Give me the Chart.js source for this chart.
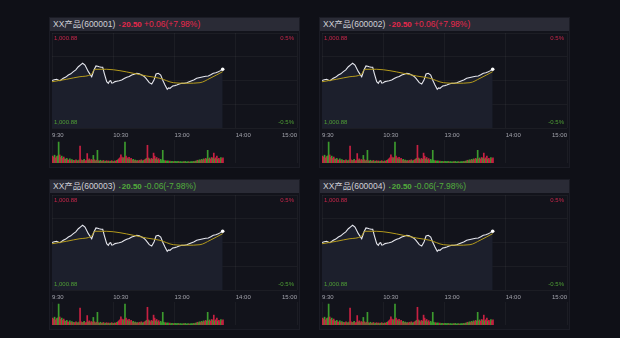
<!DOCTYPE html>
<html>
<head>
<meta charset="utf-8">
<script src="https://cdn.jsdelivr.net/npm/chart.js@4.4.0/dist/chart.umd.min.js"></script>
<style>
  html, body { margin: 0; padding: 0; width: 620px; height: 338px; overflow: hidden; background: #0f1017; }
  .panel { position: absolute; width: 251px; height: 151px; box-sizing: border-box; background: #12131b; border: 1px solid #1b1c25; }
  .head { position: absolute; left: 0; top: 0; width: 100%; height: 13px; background: #2a2b36; white-space: nowrap;
          font: 8.5px "Liberation Sans", "Noto Sans CJK SC", sans-serif; line-height: 13px; color: #cfd0d6; }
  .head .name { position: absolute; left: 3px; }
  .head .price { position: absolute; left: 69px; font-weight: bold; font-size: 8px; }
  .head .mark { font-size: 5px; margin-right: 1px; }
  .head .chg { position: absolute; left: 94px; }
  .panel canvas { position: absolute; left: 0; }
</style>
</head>
<body>
<script>
// quote header for each of the four products
const productCodes = ['600001', '600002', '600003', '600004'];
const lastPrices = ['20.50', '20.50', '20.50', '20.50'];
const changeTexts = ['+0.06(+7.98%)', '+0.06(+7.98%)', '-0.06(-7.98%)', '-0.06(-7.98%)'];
const isUp = [true, true, false, false];

// axis labels
const timeTicks = [0, 60, 120, 180, 240];           // trading minutes since 9:30
const timeLabels = ['9:30', '10:30', '13:00', '14:00', '15:00'];
const priceAxisLabels = ['1,000.88', '1,000.88'];    // top, bottom
const pctAxisLabels = ['0.5%', '-0.5%'];            // top, bottom

// intraday price (% change) sampled at trading minutes
const priceTimes = [0, 2.2, 4.6, 6.1, 7.8, 11, 13.5, 16, 18.4, 20.9, 23.3, 25.8, 28, 30, 32.3, 35.6, 38.9,
  41.1, 43.1, 44.8, 46.3, 48, 49.7, 51.2, 53.6, 55.2, 56.3, 57.5, 58.6, 60, 61.7, 63.4, 65.8, 68.3, 70.7,
  73.2, 75.6, 78.1, 80.5, 83, 85.4, 87.9, 90, 92.1, 95.3, 97.7, 99.9, 101.9, 104.1, 106.5, 108.4, 110.7,
  112.9, 114.2, 115.6, 116.9, 118.2, 120.2, 122.2, 124.6, 127.1, 129.5, 132, 134.4, 136.9, 139.3, 141.7,
  145, 148.2, 150.6, 153.1, 155.5, 158, 160.4, 162.9, 165, 167.2];
const priceValues = [0.0, 0.008, 0.013, 0.004, -0.002, 0.023, 0.036, 0.058, 0.07, 0.093, 0.112, 0.145,
  0.165, 0.181, 0.163, 0.093, 0.04, 0.11, 0.153, 0.15, 0.145, 0.14, 0.139, 0.076, -0.013, -0.03, -0.008,
  -0.002, -0.028, -0.023, -0.012, -0.008, -0.002, 0.005, 0.02, 0.034, 0.042, 0.058, 0.066, 0.076, 0.07,
  0.058, 0.045, 0.023, -0.023, -0.037, 0.005, 0.068, 0.076, 0.058, 0.005, -0.047, -0.093, -0.078, -0.082,
  -0.07, -0.058, -0.054, -0.047, -0.036, -0.029, -0.03, -0.023, -0.012, -0.002, 0.008, 0.023, 0.032, 0.04,
  0.044, 0.047, 0.06, 0.076, 0.082, 0.093, 0.104, 0.118];

// average price line
const avgTimes = [0, 14.4, 27.4, 38.9, 40.5, 42.1, 53.6, 66.6, 79.6, 92.8, 105.8, 118.8, 132, 145, 154.8, 167.2];
const avgValues = [-0.013, 0.013, 0.04, 0.068, 0.1, 0.118, 0.118, 0.103, 0.076, 0.047, 0.023, -0.023,
  -0.029, -0.023, 0.023, 0.093];

// per-minute volume (0-100) and direction (1 = up/red, 0 = down/green)
const volumes = [
  30, 26, 34, 22, 28, 31, 91, 35, 24, 30, 20, 26, 18,
  16, 20, 14, 12, 18, 11, 15, 10, 12, 9, 14, 10, 8, 13, 74,
  14, 10, 12, 16, 9, 11, 41, 13, 18, 10, 15, 12, 33, 14, 9, 12, 55,
  10, 8, 12, 7, 9, 11, 6, 8, 10,
  7, 9, 6, 8, 10, 7, 6, 9, 8, 11, 14, 18, 22, 35, 26, 20, 24, 91,
  30, 22, 18, 25, 15, 20, 12, 16, 10,
  13, 9, 11, 8, 12, 10, 14, 9, 11, 13, 16, 20, 77, 22, 18, 14, 20, 16, 43,
  30, 18, 24, 14, 19, 12, 16, 10, 55,
  12, 8, 10, 7, 9, 6, 8, 5, 7, 6, 5, 7,
  6, 5, 7, 4, 6, 5, 4, 6, 5, 7, 4, 5, 6, 4, 5, 6, 5, 7, 6, 8,
  9, 12, 10, 14, 11, 16, 13, 18, 15, 20, 17, 55,
  18, 22, 16, 24, 20, 43, 18, 22, 30, 16, 20, 14, 24, 18, 22
];
const volDir = [
  1, 1, 0, 1, 1, 0, 0, 1, 1, 0, 1, 1, 0,
  1, 0, 1, 1, 0, 1, 0, 1, 0, 1, 1, 0, 1, 0, 1,
  1, 0, 1, 0, 1, 1, 1, 0, 1, 0, 1, 1, 0, 1, 0, 1, 0,
  1, 0, 0, 1, 0, 1, 0, 0, 1,
  0, 1, 0, 0, 1, 0, 1, 0, 1, 1, 0, 1, 1, 1, 1, 0, 1, 0,
  1, 1, 0, 1, 0, 1, 1, 0, 1,
  0, 1, 0, 1, 1, 0, 1, 0, 0, 1, 1, 0, 1, 1, 0, 1, 1, 0, 1,
  1, 0, 1, 0, 1, 1, 0, 0, 0,
  0, 0, 1, 0, 0, 0, 1, 0, 0, 0, 1, 0,
  0, 0, 0, 1, 0, 0, 0, 0, 1, 0, 0, 0, 0, 1, 0, 0, 0, 0, 1, 0,
  0, 1, 0, 0, 1, 0, 1, 0, 1, 1, 0, 0,
  1, 0, 1, 1, 0, 1, 0, 1, 1, 0, 1, 1, 0, 1, 1
];

const RED = '#e8284c';
const GREEN = '#52ad3c';
const GRID = 'rgba(255,255,255,0.045)';
const panelPos = [[49, 17], [319, 17], [49, 179], [319, 179]];

Chart.defaults.font.family = '"Liberation Sans", sans-serif';
Chart.defaults.animation = false;

// fixed tick positions on the time axis
const setTimeTicks = scale => { scale.ticks = timeTicks.map(v => ({ value: v })); };

const cornerLabels = {
  id: 'cornerLabels',
  afterDraw(chart) {
    const { ctx, chartArea: a } = chart;
    const xs = chart.scales.x;
    ctx.save();
    ctx.font = '6px "Liberation Sans", sans-serif';
    ctx.textBaseline = 'middle';
    ctx.textAlign = 'left';
    ctx.fillStyle = '#c9264a';
    ctx.fillText(priceAxisLabels[0], a.left + 2, a.top + 5);
    ctx.fillStyle = '#4f9f35';
    ctx.fillText(priceAxisLabels[1], a.left + 2, a.bottom - 5.5);
    ctx.textAlign = 'right';
    ctx.fillStyle = '#c9264a';
    ctx.fillText(pctAxisLabels[0], a.right - 3, a.top + 5);
    ctx.fillStyle = '#4f9f35';
    ctx.fillText(pctAxisLabels[1], a.right - 3, a.bottom - 5.5);

    ctx.fillStyle = '#a3a4ad';
    timeTicks.forEach((t, i) => {
      const last = i === timeTicks.length - 1;
      ctx.textAlign = last ? 'right' : 'left';
      ctx.fillText(timeLabels[i], last ? a.right : xs.getPixelForValue(t), a.bottom + 7.5);
    });
    ctx.restore();
  }
};

function timeAxis() {
  return {
    type: 'linear', min: 0, max: 240, offset: false,
    afterBuildTicks: setTimeTicks,
    ticks: { display: false },
    grid: { color: GRID, drawTicks: false, offset: false },
    border: { display: false }
  };
}

function buildPanel(i) {
  const panel = document.createElement('div');
  panel.className = 'panel';
  panel.style.left = panelPos[i][0] + 'px';
  panel.style.top = panelPos[i][1] + 'px';
  const col = isUp[i] ? RED : GREEN;
  panel.innerHTML =
    '<div class="head"><span class="name">XX产品(' + productCodes[i] + ')</span>' +
    '<span class="price" style="color:' + col + '"><span class="mark">▪</span>' + lastPrices[i] + '</span>' +
    '<span class="chg" style="color:' + col + '">' + changeTexts[i] + '</span></div>';
  document.body.appendChild(panel);

  const pc = document.createElement('canvas');
  pc.width = 249; pc.height = 105; pc.style.top = '15px';
  panel.appendChild(pc);
  const vc = document.createElement('canvas');
  vc.width = 249; vc.height = 23; vc.style.top = '122px';
  panel.appendChild(vc);

  new Chart(pc, {
    type: 'line',
    data: {
      datasets: [{
        data: priceTimes.map((t, k) => ({ x: t, y: priceValues[k] })),
        borderColor: '#e6e7ee',
        borderWidth: 1.1,
        backgroundColor: '#1c1f2c',
        fill: 'start',
        tension: 0,
        pointRadius: ctx => ctx.dataIndex === priceTimes.length - 1 ? 1.8 : 0,
        pointBackgroundColor: '#ffffff',
        pointBorderWidth: 0,
        order: 2
      }, {
        data: avgTimes.map((t, k) => ({ x: t, y: avgValues[k] })),
        borderColor: '#b49a1c',
        borderWidth: 1,
        fill: false,
        cubicInterpolationMode: 'monotone',
        pointRadius: 0,
        order: 1
      }]
    },
    options: {
      responsive: false,
      layout: { autoPadding: false, padding: { left: 2, right: 2, top: 0, bottom: 10 } },
      plugins: { legend: { display: false }, tooltip: { enabled: false } },
      scales: {
        x: timeAxis(),
        y: {
          min: -0.5, max: 0.5,
          ticks: { display: false, stepSize: 0.25 },
          grid: { color: GRID, drawTicks: false },
          border: { display: false }
        }
      }
    },
    plugins: [cornerLabels]
  });

  new Chart(vc, {
    type: 'bar',
    data: {
      datasets: [{
        data: volumes.map((v, k) => ({ x: k + 0.5, y: v })),
        backgroundColor: volDir.map(d => d ? '#c72142' : '#3c9a2e'),
        barPercentage: 1,
        categoryPercentage: 1
      }]
    },
    options: {
      responsive: false,
      layout: { autoPadding: false, padding: { left: 2, right: 2, top: 0, bottom: 0 } },
      plugins: { legend: { display: false }, tooltip: { enabled: false } },
      scales: {
        x: timeAxis(),
        y: {
          min: 0, max: 100,
          ticks: { display: false },
          grid: { display: false, drawTicks: false },
          border: { display: false }
        }
      }
    }
  });
}

productCodes.forEach((_, i) => buildPanel(i));
</script>
</body>
</html>
